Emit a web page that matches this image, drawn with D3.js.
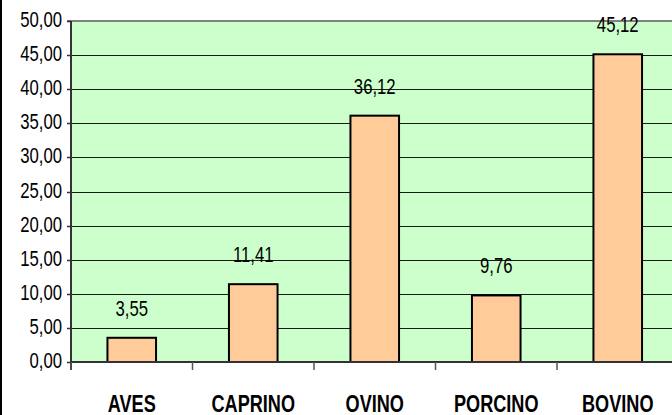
<!DOCTYPE html>
<html>
<head>
<meta charset="utf-8">
<script src="https://cdn.jsdelivr.net/npm/d3@7"></script>
<style>
  html, body { margin: 0; padding: 0; background: #ffffff; }
  svg { display: block; }
</style>
</head>
<body>
<svg id="chart" width="672" height="415"></svg>
<script>
const categories = ["AVES", "CAPRINO", "OVINO", "PORCINO", "BOVINO"];
const values = [3.55, 11.41, 36.12, 9.76, 45.12];
const yTicks = [0, 5, 10, 15, 20, 25, 30, 35, 40, 45, 50];

(function () {
const W = 672, H = 415;
const pLeft = 71, pTop = 21, pBottom = 362, pRight = 678.5;
const sx = 0.76;
const fmt = v => d3.format(".2f")(v).replace(".", ",");

const svg = d3.select("#chart");
svg.append("rect").attr("width", W).attr("height", H).attr("fill", "#ffffff");
// left outer border
svg.append("rect").attr("x", 0).attr("y", 0).attr("width", 2).attr("height", H).attr("fill", "#000");

const x = d3.scaleBand().domain(categories).range([pLeft, pRight]).paddingInner(0.6).paddingOuter(0.3);
const y = d3.scaleLinear().domain([0, 50]).range([pBottom, pTop]);

// plot area
svg.append("rect").attr("x", pLeft).attr("y", pTop).attr("width", pRight - pLeft).attr("height", pBottom - pTop)
  .attr("fill", "#CCFFCC");

// gridlines
svg.append("g").selectAll("line").data(yTicks.filter(t => t > 0 && t < 50)).join("line")
  .attr("x1", pLeft - 4).attr("x2", pRight)
  .attr("y1", d => Math.round(y(d)) + 0.5).attr("y2", d => Math.round(y(d)) + 0.5)
  .attr("stroke", "#1a1a1a").attr("stroke-width", 1);

// top border
svg.append("line").attr("x1", pLeft - 4).attr("x2", pRight).attr("y1", pTop).attr("y2", pTop)
  .attr("stroke", "#808080").attr("stroke-width", 2);

// bars
svg.append("g").selectAll("rect").data(values).join("rect")
  .attr("x", (d, i) => x(categories[i]))
  .attr("width", x.bandwidth())
  .attr("y", d => y(d))
  .attr("height", d => y(0) - y(d))
  .attr("fill", "#FFCC99").attr("stroke", "#000").attr("stroke-width", 2);

// value labels
svg.append("g").selectAll("text").data(values).join("text")
  .attr("transform", (d, i) => `translate(${x(categories[i]) + x.bandwidth() / 2},${y(d) - 22}) scale(${sx},1)`)
  .attr("text-anchor", "middle")
  .attr("font-family", "Liberation Sans, Arial, sans-serif")
  .attr("font-size", 22).attr("fill", "#000")
  .text(d => fmt(d));

// y axis
const yAxis = svg.append("g");
yAxis.append("line").attr("x1", pLeft).attr("x2", pLeft).attr("y1", pTop).attr("y2", pBottom + 8)
  .attr("stroke", "#333").attr("stroke-width", 2);
yAxis.selectAll("line.tick").data(yTicks).join("line").attr("class", "tick")
  .attr("x1", pLeft - 4).attr("x2", pLeft)
  .attr("y1", d => Math.round(y(d)) + 0.5).attr("y2", d => Math.round(y(d)) + 0.5)
  .attr("stroke", "#333").attr("stroke-width", 1.5);
yAxis.selectAll("text").data(yTicks).join("text")
  .attr("transform", d => `translate(${pLeft - 9},${y(d) + 6}) scale(${sx},1)`)
  .attr("text-anchor", "end")
  .attr("font-family", "Liberation Sans, Arial, sans-serif")
  .attr("font-size", 22).attr("fill", "#000")
  .text(d => fmt(d));

// x axis
const xAxis = svg.append("g");
xAxis.append("line").attr("x1", pLeft).attr("x2", pRight).attr("y1", pBottom).attr("y2", pBottom)
  .attr("stroke", "#333").attr("stroke-width", 2);
const step = x.step();
xAxis.selectAll("line.tick").data(d3.range(categories.length + 1)).join("line").attr("class", "tick")
  .attr("x1", i => pLeft + i * step).attr("x2", i => pLeft + i * step)
  .attr("y1", pBottom).attr("y2", pBottom + 8)
  .attr("stroke", "#555").attr("stroke-width", 1.5);
xAxis.selectAll("text").data(categories).join("text")
  .attr("transform", d => `translate(${x(d) + x.bandwidth() / 2},412) scale(0.74,1)`)
  .attr("text-anchor", "middle")
  .attr("font-family", "Liberation Sans, Arial, sans-serif")
  .attr("font-weight", "bold")
  .attr("font-size", 24.5).attr("fill", "#000")
  .text(d => d);
})();
</script>
</body>
</html>
